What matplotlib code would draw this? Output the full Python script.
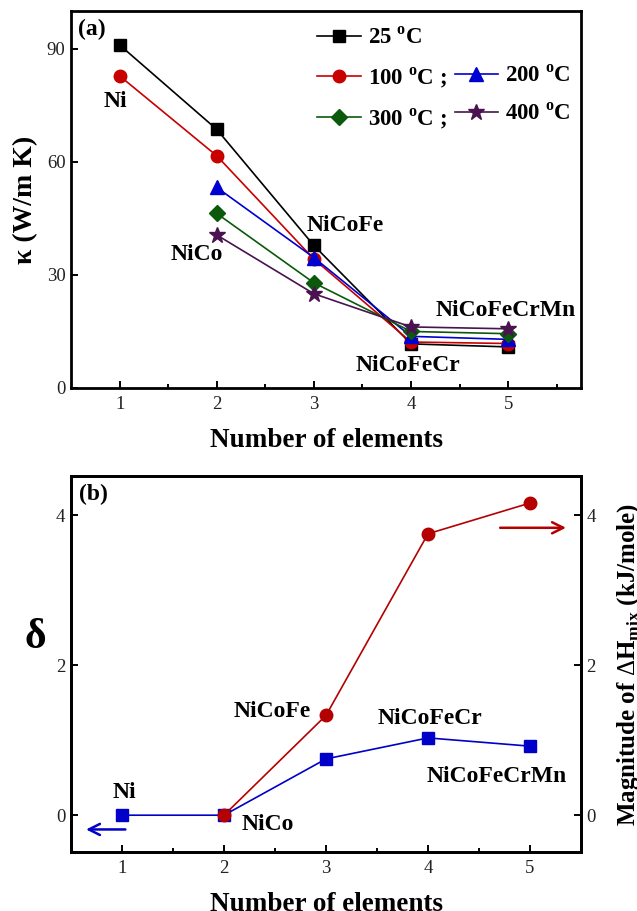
import matplotlib.pyplot as plt
from matplotlib.lines import Line2D

plt.rcParams['font.family'] = ['Liberation Serif', 'DejaVu Serif']
plt.rcParams['mathtext.fontset'] = 'custom'
plt.rcParams['mathtext.rm'] = 'Liberation Serif'
plt.rcParams['mathtext.bf'] = 'Liberation Serif:bold'

# thermal conductivity vs number of elements
n_all = [1, 2, 3, 4, 5]
n_alloy = [2, 3, 4, 5]
k_25 = [91.0, 68.6, 37.8, 11.7, 10.9]
k_100 = [82.8, 61.6, 34.2, 12.2, 11.8]
k_200 = [53.2, 34.6, 13.7, 12.9]
k_300 = [46.3, 27.9, 15.0, 14.4]
k_400 = [40.6, 25.0, 16.2, 15.7]

# lattice distortion and mixing enthalpy
delta = [0.0, 0.0, 0.75, 1.03, 0.92]
n_dh = [2, 3, 4, 5]
dh_mix = [0.0, 1.33, 3.75, 4.16]

alloys = ['Ni', 'NiCo', 'NiCoFe', 'NiCoFeCr', 'NiCoFeCrMn']

deg = r'$^\mathregular{o}$C'

fig = plt.figure(figsize=(6.37, 9.11), dpi=100)
ax1 = fig.add_axes([0.1115, 0.5741, 0.8006, 0.4138])
ax2 = fig.add_axes([0.1115, 0.0648, 0.8006, 0.4127])

lw = 1.2
h25, = ax1.plot(n_all, k_25, '-s', color='black', lw=lw, ms=8)
h100, = ax1.plot(n_all, k_100, '-o', color='#c80000', lw=lw, ms=9)
h200, = ax1.plot(n_alloy, k_200, '-^', color='#0000d0', lw=lw, ms=9.5)
h300, = ax1.plot(n_alloy, k_300, '-D', color='#0b5a0b', lw=lw, ms=8)
h400, = ax1.plot(n_alloy, k_400, '-*', color='#4a1250', lw=lw, ms=12)

blank = Line2D([], [], linestyle='none', marker='none')
ax1.legend([h25, h100, h300, blank, h200, h400],
           ['25 ' + deg, '100 ' + deg + ' ;', '300 ' + deg + ' ;',
            '', '200 ' + deg, '400 ' + deg],
           ncol=2, frameon=False, loc='upper left',
           bbox_to_anchor=(0.483, 0.956), borderaxespad=0, borderpad=0,
           handlelength=1.9, handletextpad=0.3, columnspacing=0.35,
           labelspacing=0.72, prop={'size': 16.5, 'weight': 'bold'})

ax1.set_xlim(0.5, 5.75)
ax1.set_ylim(0, 100)
ax1.set_yticks([0, 30, 60, 90])
ax1.set_xticks(n_all)
ax1.set_xticks([1.5, 2.5, 3.5, 4.5, 5.5], minor=True)
ax1.set_xlabel('Number of elements', fontsize=19.5, fontweight='bold')
ax1.xaxis.set_label_coords(0.5, -0.105)
ax1.set_ylabel('κ (W/m K)', fontsize=20, fontweight='bold', va='center')
ax1.yaxis.set_label_coords(-0.09, 0.5)

tk = dict(fontsize=17, fontweight='bold', ha='center', va='center')
ax1.text(0.71, 95.0, '(a)', **tk)
ax1.text(0.96, 75.9, alloys[0], **tk)
ax1.text(1.79, 35.5, alloys[1], **tk)
ax1.text(3.32, 43.1, alloys[2], **tk)
ax1.text(3.97, 6.0, alloys[3], **tk)
ax1.text(4.98, 20.6, alloys[4], **tk)

# panel b
ax2.plot(n_all, delta, '-s', color='#0000c8', lw=lw, ms=8.5, zorder=3)
ax3 = ax2.twinx()
ax3.plot(n_dh, dh_mix, '-o', color='#b40000', lw=lw, ms=9, zorder=3)

for a in (ax2, ax3):
    a.set_ylim(-0.49, 4.52)
    a.set_yticks([0, 2, 4])
ax2.set_xlim(0.5, 5.5)
ax2.set_xticks(n_all)
ax2.set_xticks([1.5, 2.5, 3.5, 4.5, 5.5], minor=True)
ax2.set_xlabel('Number of elements', fontsize=19.5, fontweight='bold')
ax2.xaxis.set_label_coords(0.5, -0.106)
ax2.set_ylabel('δ', fontsize=30, fontweight='bold', rotation=0,
               ha='center', va='center')
ax2.yaxis.set_label_coords(-0.07, 0.57)
ax3.set_ylabel(r'Magnitude of $\Delta\mathbf{H}_{\mathbf{mix}}$ (kJ/mole)',
               fontsize=18, fontweight='bold', va='center')
ax3.yaxis.set_label_coords(1.094, 0.5)

ax2.text(0.72, 4.28, '(b)', **tk)
ax2.text(1.02, 0.30, alloys[0], **tk)
ax2.text(2.43, -0.12, alloys[1], **tk)
ax2.text(2.47, 1.38, alloys[2], **tk)
ax2.text(4.02, 1.29, alloys[3], **tk)
ax2.text(4.67, 0.52, alloys[4], **tk)

ax2.annotate('', xy=(0.62, -0.19), xytext=(1.06, -0.19),
             arrowprops=dict(arrowstyle='->', color='#0000c8', lw=1.8,
                             mutation_scale=20))
ax2.annotate('', xy=(5.38, 3.83), xytext=(4.68, 3.83),
             arrowprops=dict(arrowstyle='->', color='#b40000', lw=1.8,
                             mutation_scale=20))

for a in (ax1, ax2, ax3):
    for s in a.spines.values():
        s.set_linewidth(2.0)
    a.tick_params(which='both', direction='in', labelsize=13.5, width=1.4,
                  labelcolor='#222222')
    a.tick_params(which='major', length=5)
    a.tick_params(which='minor', length=3)
    a.tick_params(axis='x', pad=6)
    a.tick_params(axis='y', pad=4)

fig.savefig('out.png', dpi=100)
